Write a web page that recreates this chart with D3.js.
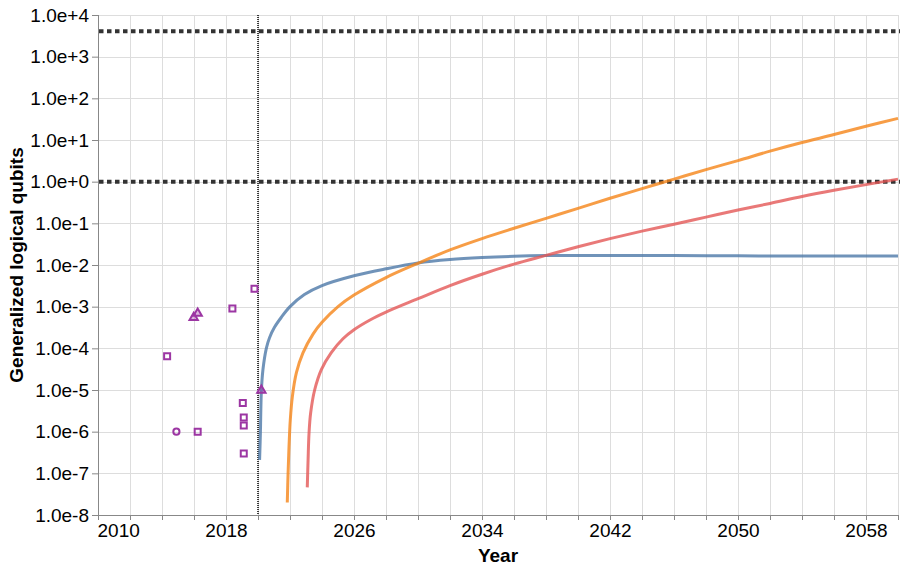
<!DOCTYPE html>
<html>
<head>
<meta charset="utf-8">
<script src="https://cdn.jsdelivr.net/npm/d3@7"></script>
<style>
  html, body { margin: 0; padding: 0; background: #fff; }
  svg { display: block; font-family: Arial, "Liberation Sans", sans-serif; }
</style>
</head>
<body>
<svg id="chart" width="904" height="571"></svg>
<script>
// ---- data (values in generalized logical qubits) ----
const blueYears  = [2020.10, 2020.15, 2020.21, 2020.31, 2020.52, 2020.72, 2021.03, 2021.45, 2022.0, 2022.9, 2024, 2026, 2028, 2030, 2032, 2034, 2036, 2038, 2042, 2046, 2050, 2054, 2060];
const blueValues = [2.1e-7, 9.3e-7, 9.3e-6, 3.1e-5, 1.0e-4, 1.8e-4, 3.2e-4, 5.5e-4, 1.0e-3, 1.95e-3, 3.2e-3, 5.5e-3, 8.1e-3, 1.12e-2, 1.35e-2, 1.51e-2, 1.62e-2, 1.68e-2, 1.70e-2, 1.68e-2, 1.66e-2, 1.64e-2, 1.64e-2];

const orangeYears  = [2021.83, 2021.88, 2021.94, 2022.02, 2022.15, 2022.4, 2022.81, 2023.44, 2024.0, 2025.0, 2026, 2028, 2030, 2032, 2034, 2036, 2038, 2040, 2042, 2044, 2046, 2048, 2050, 2052, 2054, 2056, 2058, 2060];
const orangeValues = [2.0e-8, 1.0e-7, 4.5e-7, 1.95e-6, 7.1e-6, 2.6e-5, 7.8e-5, 2.2e-4, 4.2e-4, 1.0e-3, 1.9e-3, 5.0e-3, 1.1e-2, 2.3e-2, 4.3e-2, 7.6e-2, 0.132, 0.229, 0.40, 0.68, 1.15, 1.95, 3.2, 5.4, 8.7, 13.5, 21.4, 33];

const redYears  = [2023.08, 2023.13, 2023.19, 2023.29, 2023.54, 2023.96, 2024.58, 2025.31, 2026, 2027, 2028, 2030, 2032, 2034, 2036, 2038, 2040, 2042, 2044, 2046, 2048, 2050, 2052, 2054, 2056, 2058, 2060];
const redValues = [4.6e-8, 2.1e-7, 9.3e-7, 2.8e-6, 1.0e-5, 3.1e-5, 7.9e-5, 1.7e-4, 2.8e-4, 4.8e-4, 7.4e-4, 1.55e-3, 3.2e-3, 6.0e-3, 1.05e-2, 1.7e-2, 2.75e-2, 4.3e-2, 6.5e-2, 9.5e-2, 0.141, 0.209, 0.30, 0.44, 0.62, 0.85, 1.15];

const squareYears  = [2019.78, 2018.4, 2014.32, 2019.05, 2019.11, 2019.11, 2016.23, 2019.11];
const squareValues = [2.7e-3, 9e-4, 6.5e-5, 4.9e-6, 2.2e-6, 1.4e-6, 1e-6, 3e-7];
const triangleYears  = [2015.98, 2016.23, 2020.21];
const triangleValues = [5.5e-4, 6.9e-4, 9.8e-6];
const circleYears  = [2014.9];
const circleValues = [1e-6];

const thresholdValues = [4099, 1];
const todayYear = 2020;

const xDomain = [2010, 2060];
const yDomain = [1e-8, 1e4];
const xTickYears  = d3.range(2010, 2061, 2);
const xLabelYears = [2010, 2018, 2026, 2034, 2042, 2050, 2058];
const yTickValues = d3.range(-8, 5).map(e => Math.pow(10, e));

// ---- layout ----
const plotLeft = 98, plotRight = 898, plotTop = 15, plotBottom = 515;
const svg = d3.select("#chart");
const x = d3.scaleLinear().domain(xDomain).range([plotLeft, plotRight]);
const y = d3.scaleLog().domain(yDomain).range([plotBottom, plotTop]);

const gridColor = "#dddddd";
const axisColor = "#888888";
const fontSize = 19;

// grid
const grid = svg.append("g");
grid.selectAll("line.vx").data(xTickYears).join("line")
  .attr("x1", d => Math.round(x(d)) + 0.5).attr("x2", d => Math.round(x(d)) + 0.5)
  .attr("y1", plotTop).attr("y2", plotBottom)
  .attr("stroke", gridColor).attr("stroke-width", 1);
grid.selectAll("line.hy").data(yTickValues).join("line")
  .attr("x1", plotLeft).attr("x2", plotRight)
  .attr("y1", d => Math.round(y(d)) + 0.5).attr("y2", d => Math.round(y(d)) + 0.5)
  .attr("stroke", gridColor).attr("stroke-width", 1);

// x axis
const xAxis = d3.axisBottom(x).tickValues(xTickYears).tickSize(5).tickPadding(4)
  .tickFormat(d => xLabelYears.includes(d) ? String(d) : "");
const gx = svg.append("g").attr("transform", `translate(0,${plotBottom})`).call(xAxis);
gx.select(".domain").attr("stroke", axisColor).attr("d", `M${plotLeft},0.5H${plotRight}`);
gx.selectAll(".tick line").attr("stroke", axisColor);
gx.selectAll(".tick text").attr("font-size", fontSize).attr("fill", "#000")
  .attr("font-family", "Arial, 'Liberation Sans', sans-serif")
  .attr("text-anchor", d => d === 2010 ? "start" : "middle")
  .attr("dx", d => d === 2010 ? -1 : 0);

// y axis
const yAxis = d3.axisLeft(y).tickValues(yTickValues).tickSize(6).tickPadding(3)
  .tickFormat(d3.format(".1e"));
const gy = svg.append("g").attr("transform", `translate(${plotLeft},0)`).call(yAxis);
gy.select(".domain").attr("stroke", axisColor).attr("d", `M0.5,${plotTop}V${plotBottom}`);
gy.selectAll(".tick line").attr("stroke", axisColor);
gy.selectAll(".tick text").attr("font-size", fontSize).attr("fill", "#000")
  .attr("font-family", "Arial, 'Liberation Sans', sans-serif");

// axis titles
svg.append("text").attr("x", (plotLeft + plotRight) / 2).attr("y", 562)
  .attr("text-anchor", "middle").attr("font-size", fontSize).attr("font-weight", "bold")
  .text("Year");
svg.append("text").attr("transform", `translate(23,${(plotTop + plotBottom) / 2}) rotate(-90)`)
  .attr("text-anchor", "middle").attr("font-size", fontSize).attr("font-weight", "bold")
  .text("Generalized logical qubits");

// threshold lines
svg.selectAll("line.thr").data(thresholdValues).join("line")
  .attr("x1", plotLeft + 1).attr("x2", plotRight + 2)
  .attr("y1", d => y(d)).attr("y2", d => y(d))
  .attr("stroke", "#333").attr("stroke-width", 4).attr("stroke-dasharray", "4.5,3.5");

// today line
svg.append("line")
  .attr("x1", x(todayYear)).attr("x2", x(todayYear))
  .attr("y1", plotTop).attr("y2", plotBottom)
  .attr("stroke", "#000").attr("stroke-width", 1.5).attr("stroke-dasharray", "1,1");

// curves
const line = d3.line().x(d => x(d[0])).y(d => y(d[1])).curve(d3.curveCatmullRom.alpha(0.5));
const series = [
  { years: blueYears, values: blueValues, color: "#4c78a8" },
  { years: orangeYears, values: orangeValues, color: "#f58518" },
  { years: redYears, values: redValues, color: "#e45756" }
];
series.forEach(s => {
  svg.append("path").datum(s.years.map((yr, i) => [yr, s.values[i]]))
    .attr("d", line).attr("fill", "none")
    .attr("stroke", s.color).attr("stroke-opacity", 0.8).attr("stroke-width", 3);
});

// scatter
const purple = "#9c36a3";
const sq = d3.symbol().type(d3.symbolSquare).size(36);
const tri = d3.symbol().type(d3.symbolTriangle).size(30);
const circ = d3.symbol().type(d3.symbolCircle).size(30);
const sqData = squareYears.map((yr, i) => [yr, squareValues[i]]);
const triData = triangleYears.map((yr, i) => [yr, triangleValues[i]]);
const cData = circleYears.map((yr, i) => [yr, circleValues[i]]);
svg.selectAll("path.sq").data(sqData).join("path")
  .attr("transform", d => `translate(${x(d[0])},${y(d[1])})`).attr("d", sq)
  .attr("fill", "none").attr("stroke", purple).attr("stroke-width", 2);
svg.selectAll("path.tri").data(triData).join("path")
  .attr("transform", d => `translate(${x(d[0])},${y(d[1])})`).attr("d", tri)
  .attr("fill", purple).attr("fill-opacity", 0.35).attr("stroke", purple).attr("stroke-width", 2);
svg.selectAll("path.ci").data(cData).join("path")
  .attr("transform", d => `translate(${x(d[0])},${y(d[1])})`).attr("d", circ)
  .attr("fill", "none").attr("stroke", purple).attr("stroke-width", 2);
</script>
</body>
</html>
